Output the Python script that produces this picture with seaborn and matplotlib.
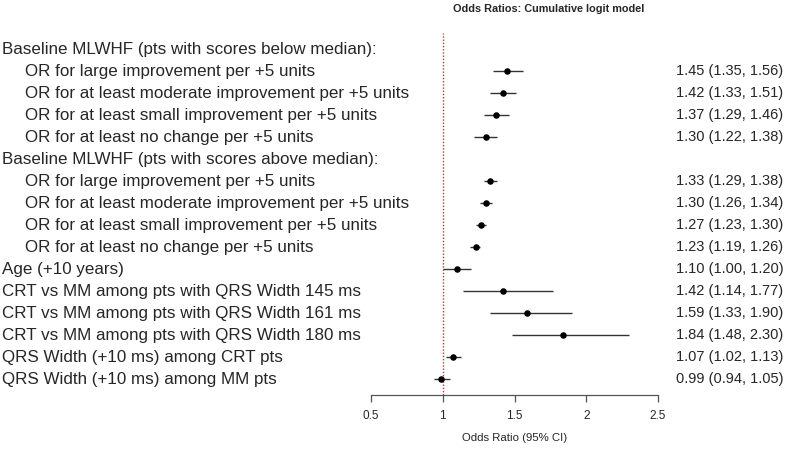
import matplotlib.pyplot as plt
import matplotlib.transforms as mtransforms
import pandas as pd
import seaborn as sns

# rows from top to bottom; headers have no estimate
labels = [
    "Baseline MLWHF (pts with scores below median):",
    "OR for large improvement per +5 units",
    "OR for at least moderate improvement per +5 units",
    "OR for at least small improvement per +5 units",
    "OR for at least no change per +5 units",
    "Baseline MLWHF (pts with scores above median):",
    "OR for large improvement per +5 units",
    "OR for at least moderate improvement per +5 units",
    "OR for at least small improvement per +5 units",
    "OR for at least no change per +5 units",
    "Age (+10 years)",
    "CRT vs MM among pts with QRS Width 145 ms",
    "CRT vs MM among pts with QRS Width 161 ms",
    "CRT vs MM among pts with QRS Width 180 ms",
    "QRS Width (+10 ms) among CRT pts",
    "QRS Width (+10 ms) among MM pts",
]
indented = [False, True, True, True, True, False, True, True, True, True,
            False, False, False, False, False, False]
odds = [None, 1.45, 1.42, 1.37, 1.30, None, 1.33, 1.30, 1.27, 1.23,
        1.10, 1.42, 1.59, 1.84, 1.07, 0.99]
lower = [None, 1.35, 1.33, 1.29, 1.22, None, 1.29, 1.26, 1.23, 1.19,
         1.00, 1.14, 1.33, 1.48, 1.02, 0.94]
upper = [None, 1.56, 1.51, 1.46, 1.38, None, 1.38, 1.34, 1.30, 1.26,
         1.20, 1.77, 1.90, 2.30, 1.13, 1.05]
x_ticks = [0.5, 1, 1.5, 2, 2.5]
x_tick_labels = ["0.5", "1", "1.5", "2", "2.5"]

df = pd.DataFrame({"label": labels, "odds": odds, "lower": lower, "upper": upper})
df["row"] = range(len(df))
est = df.dropna()

sns.set_style("white")
plt.rcParams["font.family"] = ["Liberation Sans", "DejaVu Sans"]

fig = plt.figure(figsize=(8, 4.5), dpi=100)
ax = fig.add_axes([0.46375, 0.1222, 0.35875, 0.8044])

# reference line at OR = 1
ax.axvline(1, color="#e8202a", linestyle=(0, (1, 1.3)), linewidth=1.0, zorder=1)
ax.hlines(est["row"], est["lower"], est["upper"], color="#333333", linewidth=1, zorder=2)
sns.scatterplot(data=est, x="odds", y="row", ax=ax, color="black", s=22,
                edgecolor="black", linewidth=0, zorder=3, legend=False)

ax.set_xlim(0.5, 2.5)
ax.set_ylim(15.727, -0.727)
ax.set_yticks([])
ax.set_xticks(x_ticks)
ax.set_xticklabels(x_tick_labels, fontsize=8.5)
ax.tick_params(axis="x", direction="out", length=5, width=0.9, color="#555555",
               pad=6, bottom=True)
for side in ["top", "left", "right"]:
    ax.spines[side].set_visible(False)
ax.spines["bottom"].set_color("#555555")
ax.spines["bottom"].set_linewidth(0.9)
ax.set_xlabel("Odds Ratio (95% CI)", fontsize=8.2, labelpad=8)
ax.set_ylabel("")

trans = mtransforms.blended_transform_factory(fig.transFigure, ax.transData)
for i, row in df.iterrows():
    x0 = 25 / 800 if indented[i] else 2 / 800
    ax.text(x0, row["row"], row["label"], transform=trans, fontsize=12.25,
            va="center", ha="left", clip_on=False)
    if pd.notna(row["odds"]):
        txt = "%.2f (%.2f, %.2f)" % (row["odds"], row["lower"], row["upper"])
        ax.text(676 / 800, row["row"], txt, transform=trans, fontsize=10.5,
                va="center", ha="left", clip_on=False)

fig.text(548.5 / 800, 1 - 9 / 450, "Odds Ratios: Cumulative logit model",
         fontsize=7.8, fontweight="bold", ha="center", va="center")

fig.savefig("out.png", dpi=100)
